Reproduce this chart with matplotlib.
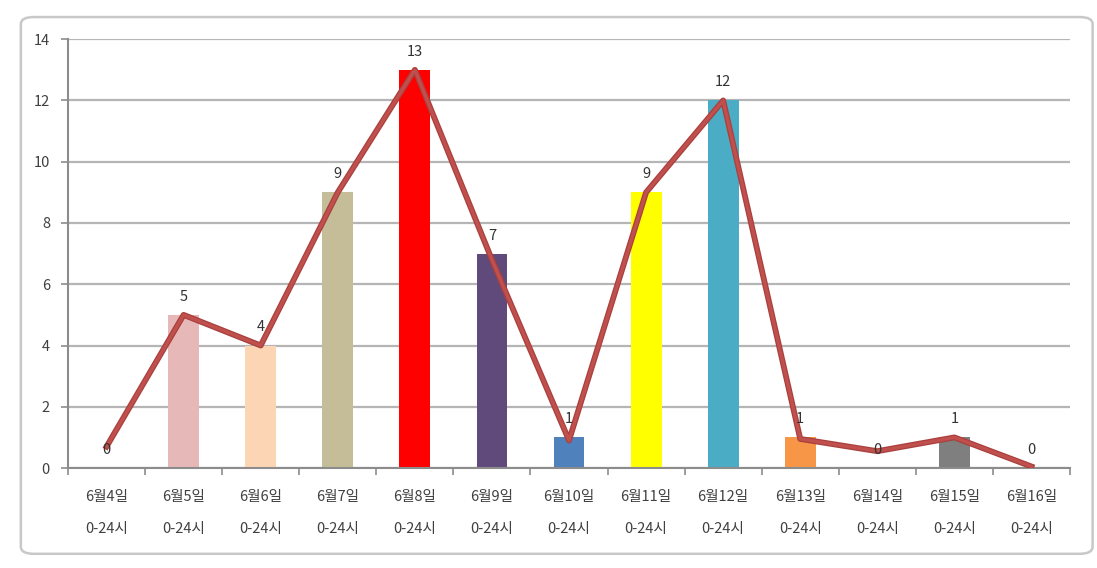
import matplotlib.pyplot as plt
import matplotlib.patheffects as pe
from matplotlib.patches import FancyBboxPatch

plt.rcParams['font.family'] = ['Noto Sans CJK KR', 'DejaVu Sans']

days = ["6월4일", "6월5일", "6월6일", "6월7일", "6월8일", "6월9일", "6월10일",
        "6월11일", "6월12일", "6월13일", "6월14일", "6월15일", "6월16일"]
hours = "0-24시"
counts = [0, 5, 4, 9, 13, 7, 1, 9, 12, 1, 0, 1, 0]
trend = [0.7, 5, 4, 9, 13, 6.8, 0.9, 9, 12, 0.95, 0.55, 1, 0.05]
bar_colors = ["#FFFFFF", "#E6B8B7", "#FCD5B4", "#C4BD97", "#FF0000", "#604A7B",
              "#4F81BD", "#FFFF00", "#4BACC6", "#F79646", "#FFFFFF", "#7F7F7F",
              "#FFFFFF"]

fig = plt.figure(figsize=(10.97, 5.68), dpi=100)
fig.patch.set_facecolor("white")

# chart border like the spreadsheet chart box
border = FancyBboxPatch((0.019, 0.025), 0.977, 0.945, boxstyle="round,pad=0,rounding_size=0.012",
                        transform=fig.transFigure, facecolor="white",
                        edgecolor="#C8C8C8", linewidth=1.8, zorder=-5)
fig.patches.append(border)

ax = fig.add_axes([0.062, 0.176, 0.9134, 0.755])
ax.set_zorder(2)
ax.set_facecolor("none")

x = list(range(len(days)))
ax.bar(x, counts, width=0.4, color=bar_colors, zorder=2)

ax.plot(x, trend, color="#C0504D", linewidth=2.4, zorder=3,
        path_effects=[pe.Stroke(linewidth=4.2, foreground="#A9403D"), pe.Normal()])

for i, v in enumerate(counts):
    ax.annotate(str(v), (i, v), xytext=(0, 13), textcoords="offset points",
                ha="center", va="center", fontsize=10.5, color="#333333", zorder=4)

ax.set_xlim(-0.5, len(days) - 0.5)
ax.set_ylim(0, 14)
ax.set_yticks(range(0, 15, 2))
ax.yaxis.grid(True, color="#B5B5B5", linewidth=1.6, zorder=0)
ax.set_axisbelow(True)

ax.set_xticks(x)
ax.set_xticklabels([d + "\n" + hours for d in days], fontsize=10.5,
                   color="#404040", linespacing=2.6, fontweight="medium")
ax.set_xticks([i + 0.5 for i in range(-1, len(days))], minor=True)
ax.tick_params(axis="x", which="major", length=0, pad=16)
ax.tick_params(axis="x", which="minor", length=5, color="#8C8C8C", width=1.2)
ax.tick_params(axis="y", length=5, color="#8C8C8C", width=1.2, labelsize=10.5,
               labelcolor="#404040", pad=8)

for side in ["top", "right"]:
    ax.spines[side].set_visible(False)
for side in ["left", "bottom"]:
    ax.spines[side].set_color("#8C8C8C")
    ax.spines[side].set_linewidth(1.5)

fig.savefig("out.png", dpi=100)
